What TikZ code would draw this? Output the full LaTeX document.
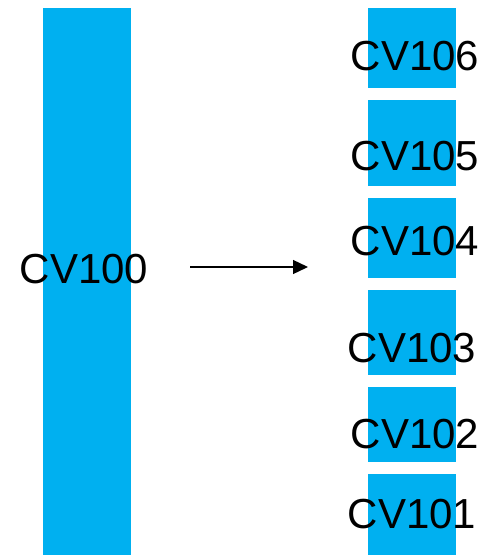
\documentclass[tikz,border=0pt]{standalone}
\usepackage{fontspec}
\setmainfont{Liberation Sans}
\usetikzlibrary{arrows.meta}
\definecolor{cvblue}{HTML}{00B0F0}
\begin{document}
\begin{tikzpicture}[x=1pt,y=-1pt,
  bar/.style={fill=cvblue,draw=none,inner sep=0pt,outer sep=0pt},
  lbl/.style={inner sep=0pt,anchor=base,font=\fontsize{42}{42}\selectfont,text=black}]
\useasboundingbox (0,0) rectangle (487,555);
% main bar
\path[fill=cvblue] (43,8) rectangle (131,555);
\coordinate (bigc) at (87,280);
% small boxes
\path[fill=cvblue] (368,8) rectangle (456,88);
\path[fill=cvblue] (368,100) rectangle (456,186);
\path[fill=cvblue] (368,198) rectangle (456,278);
\path[fill=cvblue] (368,290) rectangle (456,375);
\path[fill=cvblue] (368,387) rectangle (456,462);
\path[fill=cvblue] (368,474) rectangle (456,555);
% labels
\node[lbl] (t100) at (84,283) {CV100};
\node[lbl] (t106) at (415,70) {CV106};
\node[lbl] (t105) at (415,170) {CV105};
\node[lbl] (t104) at (415,255) {CV104};
\node[lbl] (t103) at (412,362) {CV103};
\node[lbl] (t102) at (415,448) {CV102};
\node[lbl] (t101) at (412,528) {CV101};
% arrow
\coordinate (as) at (190,267);
\coordinate (ae) at (308,267);
\draw[line width=1.3pt,-{Triangle[length=15pt,width=14pt]}] (as) -- (ae);
\end{tikzpicture}
\end{document}
